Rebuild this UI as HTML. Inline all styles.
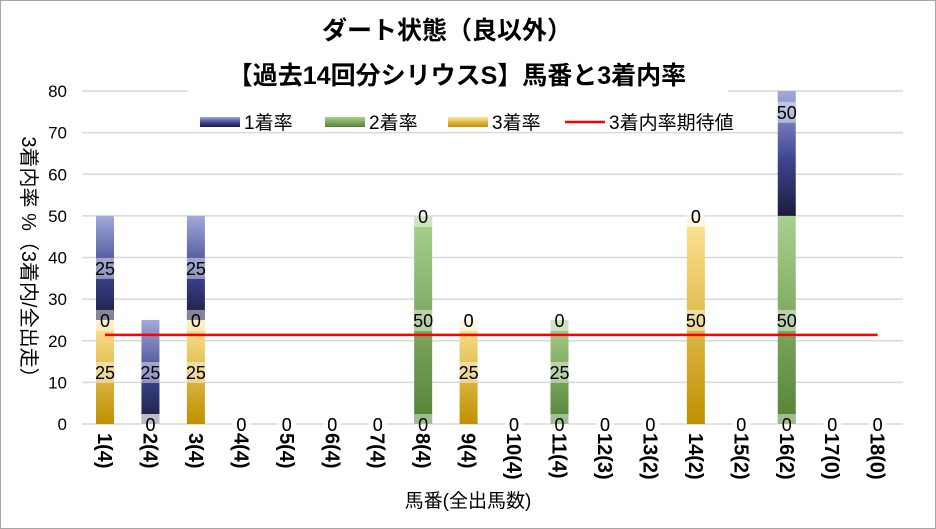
<!DOCTYPE html>
<html><head><meta charset="utf-8"><style>
html,body{margin:0;padding:0;background:#fff;}
svg{display:block;font-family:"Liberation Sans","Noto Sans CJK JP",sans-serif;}
</style></head><body>
<svg id="c" width="936" height="529">
<defs>
<linearGradient id="gB" x1="0" y1="0" x2="0" y2="1"><stop offset="0" stop-color="#a3a9d8"/><stop offset="0.55" stop-color="#3c4592"/><stop offset="1" stop-color="#1c1c3e"/></linearGradient>
<linearGradient id="gG" x1="0" y1="0" x2="0" y2="1"><stop offset="0" stop-color="#a9d18e"/><stop offset="1" stop-color="#548235"/></linearGradient>
<linearGradient id="gY" x1="0" y1="0" x2="0" y2="1"><stop offset="0" stop-color="#ffe699"/><stop offset="1" stop-color="#bf9000"/></linearGradient>
</defs>
<rect x="0.5" y="0.5" width="935" height="528" fill="#fff" stroke="#a6a6a6"/>
<g id="grid"></g><g id="bars"></g><g id="line"></g><g id="labels"></g><g id="xt"></g>
<text x="447" y="39" font-size="25" font-weight="bold" text-anchor="middle">ダート状態（良以外）</text>
<rect x="188" y="58" width="540" height="34" fill="#fff"/>
<text x="457" y="84" font-size="25" font-weight="bold" text-anchor="middle">【過去14回分シリウスS】馬番と3着内率</text>
<g font-size="19">
<rect x="200" y="117" width="40" height="10" fill="url(#gB)"/>
<text x="244" y="129">1着率</text>
<rect x="325" y="117" width="40" height="10" fill="url(#gG)"/>
<text x="369" y="129">2着率</text>
<rect x="448" y="117" width="40" height="10" fill="url(#gY)"/>
<text x="492" y="129">3着率</text>
<line x1="565" y1="122" x2="605" y2="122" stroke="#ff0000" stroke-width="2.5"/>
<text x="609" y="129">3着内率期待値</text>
</g>
<text transform="translate(22,262) rotate(90)" font-size="20" text-anchor="middle">3着内率 %（3着内/全出走）</text>
<text x="468" y="507" font-size="19" text-anchor="middle">馬番(全出馬数)</text>
</svg>
<script>
const categories=["1(4)","2(4)","3(4)","4(4)","5(4)","6(4)","7(4)","8(4)","9(4)","10(4)","11(4)","12(3)","13(2)","14(2)","15(2)","16(2)","17(0)","18(0)"];
const win=[25,25,25,0,0,0,0,0,0,0,0,0,0,0,0,50,0,0];
const second=[0,0,0,0,0,0,0,50,0,0,25,0,0,0,0,50,0,0];
const third=[25,0,25,0,0,0,0,0,25,0,0,0,0,50,0,0,0,0];
const expected=21.4;
const yTicks=[0,10,20,30,40,50,60,70,80];
const NS="http://www.w3.org/2000/svg";
const y0=424,yMax=80,pxPer=(424-91)/80;
function Y(v){return y0-Math.min(v,yMax)*pxPer;}
function X(i){return 105+i*45.45;}
function mk(t,a,p){const e=document.createElementNS(NS,t);for(const k in a)e.setAttribute(k,a[k]);p.appendChild(e);return e;}
const grid=document.getElementById('grid');
yTicks.forEach(v=>{
 const l=mk('line',{x1:82,x2:903,y1:Y(v),y2:Y(v),stroke:'#d9d9d9','stroke-width':1.5},grid);
 
 
 const t=mk('text',{x:67,y:Y(v)+6,'font-size':17,'text-anchor':'end'},grid);
 t.textContent=v;
 
 
});
const bars=document.getElementById('bars'),labels=document.getElementById('labels'),xt=document.getElementById('xt');
const bw=18;
categories.forEach((c,i)=>{
 const segs=[[third[i],'url(#gY)','third'],[second[i],'url(#gG)','second'],[win[i],'url(#gB)','win']];
 let base=0;
 segs.forEach(s=>{
  const v=s[0],top=base+v;
  if(v>0){
   const r=mk('rect',{x:X(i)-bw/2,y:Y(top),width:bw,height:Y(base)-Y(top),fill:s[1]},bars);
   
   
  }
  const mid=v>0?(base+top)/2:base;
  const ly=Math.min(Y(mid)+7,y0+7);
  const bg=mk('rect',{x:X(i)-bw/2,y:ly-17,width:bw,height:21,fill:'#fff',opacity:0.45},labels);
  
  
  const t=mk('text',{x:X(i),y:ly,'font-size':18,'text-anchor':'middle'},labels);
  t.textContent=v;
  
  
  base=top;
 });
 const t=mk('text',{transform:`translate(${X(i)-7},433) rotate(90)`,'font-size':20,'font-weight':'bold'},xt);
 t.textContent=c;
 
 
});
const ln=mk('line',{x1:X(0),x2:X(categories.length-1),y1:Y(expected),y2:Y(expected),stroke:'#ff0000','stroke-width':2.5},document.getElementById('line'));


</script>
</body></html>
